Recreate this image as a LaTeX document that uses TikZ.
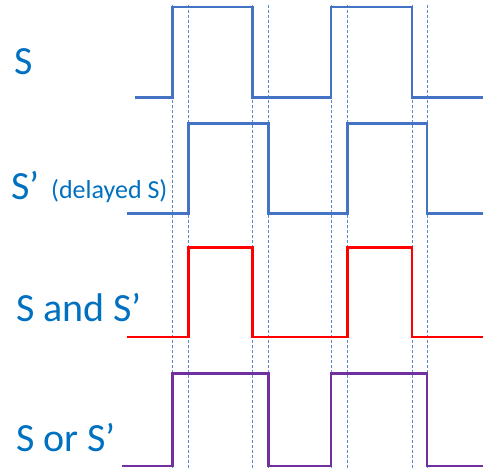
\documentclass[tikz,border=0pt]{standalone}
\usepackage{fontspec}
\setmainfont{Carlito}
\definecolor{sigblue}{HTML}{4472C4}
\definecolor{sigred}{HTML}{FF0000}
\definecolor{sigpurple}{HTML}{7030A0}
\definecolor{txtblue}{HTML}{0070C0}
\definecolor{dashblue}{HTML}{5B86D0}
\tikzset{
  sig/.style={line width=2.6pt, line join=miter},
  guide/.style={dashblue, line width=1pt, dash pattern=on 3pt off 2pt},
  lbl/.style={anchor=base west, inner sep=0pt, text=txtblue, font=\fontsize{40}{41}\selectfont},
  sublbl/.style={anchor=base west, inner sep=0pt, text=txtblue, font=\fontsize{26}{27}\selectfont}
}
\begin{document}
\begin{tikzpicture}[x=1pt,y=-1pt]
\useasboundingbox (0,0) rectangle (483,470);
% guide lines
\foreach \gx [count=\gi] in {172.3,188.3,252.3,268.3,331,347.7,412,427}{
  \coordinate (gt\gi) at (\gx,5);
  \coordinate (gb\gi) at (\gx,470);
  \draw[guide] (gt\gi) -- (gb\gi);
}
% S
\draw[sig, sigblue] (135,97.7) -- (172.3,97.7) -- (172.3,7) -- (252.3,7) -- (252.3,97.7) -- (331,97.7) -- (331,7) -- (412,7) -- (412,97.7) -- (483,97.7);
% S'
\draw[sig, sigblue] (127,213.5) -- (188.3,213.5) -- (188.3,123.3) -- (268.3,123.3) -- (268.3,213.5) -- (347.7,213.5) -- (347.7,123.3) -- (427,123.3) -- (427,213.5) -- (483,213.5);
% S and S'
\draw[sig, sigred] (127,337) -- (188.3,337) -- (188.3,247.7) -- (252.3,247.7) -- (252.3,337) -- (347.7,337) -- (347.7,247.7) -- (412,247.7) -- (412,337) -- (483,337);
% S or S'
\draw[sig, sigpurple] (121.7,466) -- (172.3,466) -- (172.3,373.3) -- (268.3,373.3) -- (268.3,466) -- (331,466) -- (331,373.3) -- (427,373.3) -- (427,466) -- (483,466);
% labels
\node[lbl] (ls) at (14,75) {S};
\node[lbl] (lsp) at (11,200) {S’};
\node[sublbl] (ld) at (51,199) {(delayed S)};
\node[lbl] (land) at (16,322) {S and S’};
\node[lbl] (lor) at (16,452) {S or S’};
\end{tikzpicture}
\end{document}
